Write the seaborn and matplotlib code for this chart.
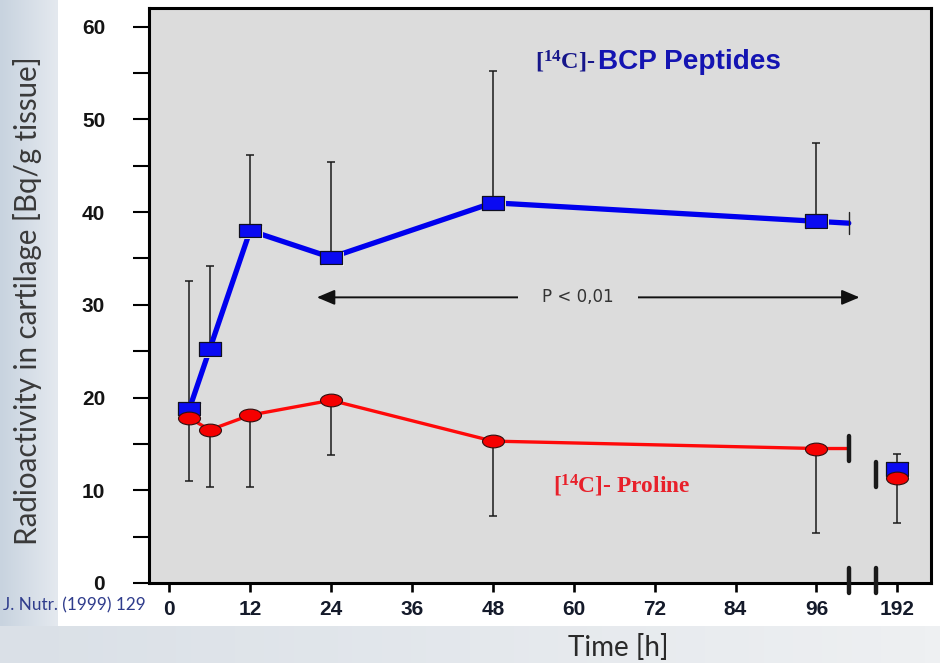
import numpy as np
import matplotlib
matplotlib.use("Agg")
import matplotlib.pyplot as plt
import matplotlib.patheffects as pe
from matplotlib.path import Path
from matplotlib.markers import MarkerStyle
import seaborn as sns

# ---------------- data ----------------
hours = [3, 6, 12, 24, 48, 96, 192]
bcp_mean = [18.8, 25.2, 38.0, 35.1, 41.0, 39.0, 12.3]
bcp_upper = [32.6, 34.2, 46.1, 45.4, 55.2, 47.4, 13.9]
pro_mean = [17.8, 16.5, 18.1, 19.7, 15.3, 14.5, 11.3]
pro_lower = [11.0, 10.3, 10.3, 13.8, 7.2, 5.4, 6.5]
bcp_line_end = 38.8      # value where the blue line reaches the axis break
pro_line_end = 14.5      # value where the red line reaches the axis break
x_tick_hours = [0, 12, 24, 36, 48, 60, 72, 84, 96, 192]
x_tick_labels = ["0", "12", "24", "36", "48", "60", "72", "84", "96", "192"]
y_ticks = [0, 10, 20, 30, 40, 50, 60]
y_minor = [5, 15, 25, 35, 45, 55]

# broken time axis: 0..96 h linear, then a break, then 192 h
BREAK_A, BREAK_B, POS_192 = 100.8, 104.8, 108.0


def xpos(h):
    return h if h <= 96 else POS_192


sns.set_theme(style="ticks")
plt.rcParams["font.family"] = ["DejaVu Sans"]
plt.rcParams["mathtext.fontset"] = "custom"
plt.rcParams["mathtext.rm"] = "Liberation Serif"
plt.rcParams["mathtext.bf"] = "Liberation Serif:bold"
plt.rcParams["mathtext.it"] = "Liberation Serif:italic"

fig = plt.figure(figsize=(9.4, 6.63), dpi=100)
fig.patch.set_facecolor("white")

# slide-like background strips
bg = fig.add_axes([0, 0, 1, 1], zorder=-10)
bg.set_xlim(0, 940)
bg.set_ylim(663, 0)
bg.axis("off")
grad_left = np.linspace(0, 1, 64)[None, :, None]
c0 = np.array([200, 211, 223]) / 255
c1 = np.array([228, 233, 239]) / 255
bg.imshow(c0 + (c1 - c0) * grad_left, extent=(0, 58, 626, 0), aspect="auto")
c2 = np.array([218, 224, 231]) / 255
c3 = np.array([238, 240, 242]) / 255
bg.imshow(c2 + (c3 - c2) * grad_left, extent=(0, 940, 663, 626), aspect="auto")

ax = fig.add_axes([149 / 940, 1 - 583 / 663, (931 - 149) / 940, (583 - 8) / 663])
ax.set_facecolor("#DCDCDC")
ax.set_xlim(-3, 113)
ax.set_ylim(0, 62)

pos = [xpos(h) for h in hours]
n = len(hours)

# error bars (blue upward, red downward)
ax.errorbar(pos, bcp_mean, yerr=[[0] * n, [u - m for u, m in zip(bcp_upper, bcp_mean)]],
            fmt="none", ecolor="#1a1a1a", elinewidth=1.1, capsize=3.0, capthick=1.1, zorder=2)
ax.errorbar(pos, pro_mean, yerr=[[m - l for m, l in zip(pro_mean, pro_lower)], [0] * n],
            fmt="none", ecolor="#1a1a1a", elinewidth=1.1, capsize=3.0, capthick=1.1, zorder=2)

# connecting lines up to the break
sns.lineplot(x=pos[:6] + [BREAK_A], y=bcp_mean[:6] + [bcp_line_end], ax=ax, color="#0000EE",
             lw=3.8, sort=False, estimator=None, zorder=3)
sns.lineplot(x=pos[:6] + [BREAK_A], y=pro_mean[:6] + [pro_line_end], ax=ax, color="#FF0A0A",
             lw=2.4, sort=False, estimator=None, zorder=3)

# markers
rect = MarkerStyle(Path([(-1, -0.62), (1, -0.62), (1, 0.62), (-1, 0.62), (-1, -0.62)],
                        [Path.MOVETO, Path.LINETO, Path.LINETO, Path.LINETO, Path.CLOSEPOLY]))
circ = Path.unit_circle()
ell = MarkerStyle(Path(circ.vertices * np.array([1.0, 0.58]), circ.codes))

sns.scatterplot(x=pos, y=bcp_mean, ax=ax, marker=rect, s=250, color="#0A0AF2",
                edgecolor="#101020", linewidth=0.9, zorder=4)
ax.collections[-1].set_path_effects([
    pe.SimplePatchShadow(offset=(1.3, -1.3), shadow_rgbFace="#F2F2F2", alpha=1.0), pe.Normal()])
sns.scatterplot(x=pos, y=pro_mean, ax=ax, marker=ell, s=250, color="#F50000",
                edgecolor="#301010", linewidth=0.8, zorder=5)

# break markers
ax.plot([BREAK_A, BREAK_A], [bcp_line_end - 1.2, bcp_line_end + 1.2], color="#222", lw=1.0, zorder=6)
ax.plot([BREAK_A, BREAK_A], [pro_line_end - 1.3, pro_line_end + 1.3], color="k", lw=3.2,
        solid_capstyle="round", zorder=6)
ax.plot([BREAK_B, BREAK_B], [pro_mean[-1] - 0.9, pro_mean[-1] + 1.8], color="k", lw=3.2,
        solid_capstyle="round", zorder=6)
for b in (BREAK_A, BREAK_B):
    ax.plot([b, b], [-1.1, 1.6], color="k", lw=3.2, solid_capstyle="round", clip_on=False, zorder=7)

# significance arrow
ax.annotate("", xy=(21.9, 30.8), xytext=(102.4, 30.8),
            arrowprops=dict(arrowstyle="<|-|>,head_length=0.9,head_width=0.38", lw=1.4,
                            color="#111111", shrinkA=0, shrinkB=0), zorder=6)
ptxt = ax.text(60.6, 30.8, "P < 0,01", ha="center", va="center", fontsize=12,
               color="#333333", family="DejaVu Sans", zorder=8,
               bbox=dict(boxstyle="square,pad=1.45", fc="#DCDCDC", ec="none"))

# series labels
t1 = ax.text(63.3, 55.4, r"[$^{\mathbf{14}}$C]-", ha="right", va="baseline", fontsize=17.5,
             family="Liberation Serif", weight="bold", color="#16168A", zorder=8)
t2 = ax.text(63.6, 55.4, "BCP Peptides", ha="left", va="baseline", fontsize=20,
             family="Liberation Sans", weight="bold", color="#1414B2", zorder=8)
t3 = ax.text(56.9, 9.7, r"[$^{\mathbf{14}}$C]- Proline", ha="left", va="baseline", fontsize=17,
             family="Liberation Serif", weight="bold", color="#E8202A", zorder=8)

# axes styling
for s in ax.spines.values():
    s.set_linewidth(2.2)
    s.set_color("black")
ax.set_xticks([xpos(h) for h in x_tick_hours])
ax.set_xticklabels(x_tick_labels)
ax.set_yticks(y_ticks)
ax.set_yticks(y_minor, minor=True)
ax.tick_params(axis="x", direction="out", length=6.5, width=1.9, pad=6, colors="black",
               labelsize=15, labelcolor="#141a2a")
ax.tick_params(axis="y", which="both", direction="out", length=11.5, width=1.5, colors="black")
ax.tick_params(axis="y", which="major", pad=20, labelsize=15, labelcolor="#141414")
for lab in ax.get_xticklabels():
    lab.set_family("Liberation Sans")
    lab.set_weight("bold")
for lab in ax.get_yticklabels():
    lab.set_family("Liberation Sans")
    lab.set_weight("bold")

ax.set_xlabel("Time [h]", family="Lato", fontsize=18, color="#2a2a2a", va="center")
ax.xaxis.set_label_coords((618 - 149) / 782, (583 - 648) / 575)
ax.set_ylabel("Radioactivity in cartilage [Bq/g tissue]", family="Lato", fontsize=18,
              color="#3a3a3a", va="center")
ax.yaxis.set_label_coords((28 - 149) / 782, (583 - 301) / 575)

src = fig.text(3 / 940, 1 - 605 / 663, "J. Nutr. (1999) 129", ha="left", va="center",
               fontsize=10, family="Lato", color="#2F3C8C")


def fit(txt, target):
    fig.canvas.draw()
    bb = txt.get_window_extent()
    w = max(bb.width, bb.height) if txt.get_rotation() else bb.width
    txt.set_fontsize(txt.get_fontsize() * target / w)


fit(ax.yaxis.label, 488)
fit(ax.xaxis.label, 100)
fit(src, 142)
fit(t2, 182)
fit(t3, 137)

fig.savefig("out.png", dpi=100, facecolor=fig.get_facecolor())
